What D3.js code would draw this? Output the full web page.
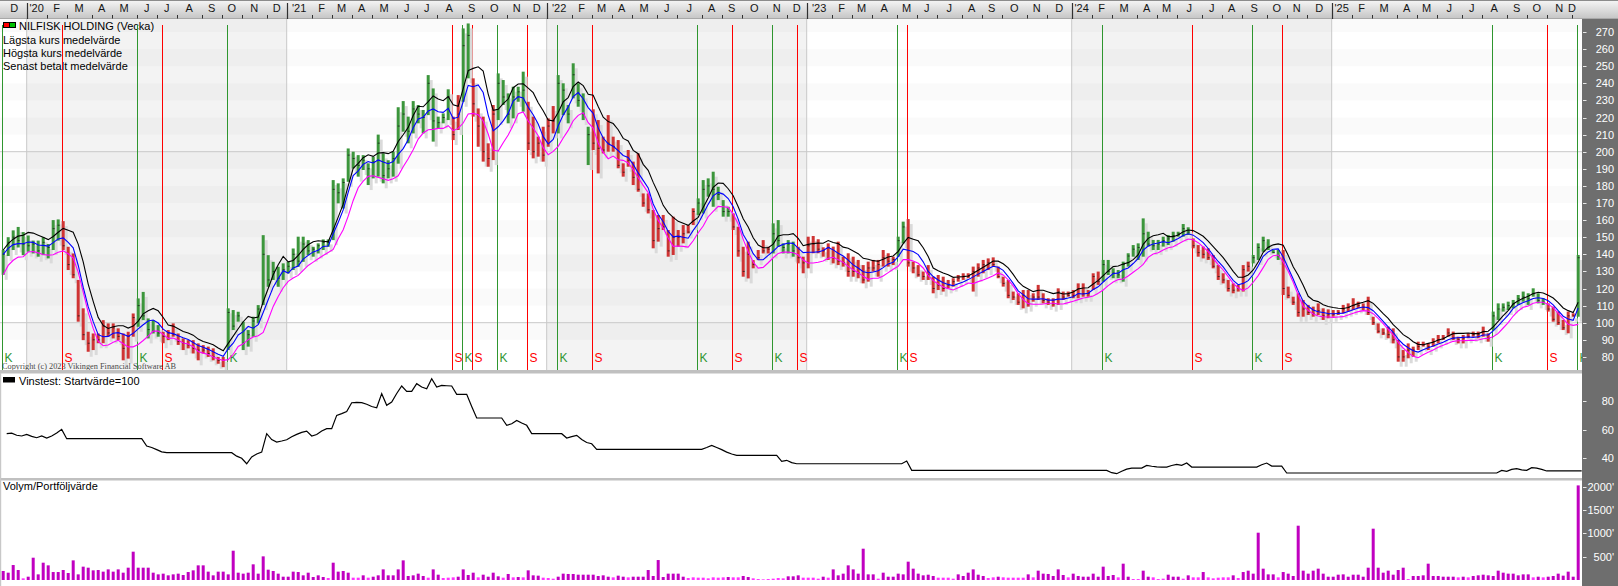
<!DOCTYPE html>
<html><head><meta charset="utf-8">
<script src="https://cdn.jsdelivr.net/npm/d3@7/dist/d3.min.js"></script>
<style>
html,body{margin:0;padding:0;background:#fff;overflow:hidden}
svg{display:block}
text{font-family:"Liberation Sans",Arial,sans-serif;font-size:11px}
</style></head><body>
<svg id="chart" width="1618" height="586"></svg>
<script>
// ---------- DATA (weekly, first week = Sunday 2019-12-01) ----------
const startDate = new Date(2019, 11, 1);
const highs = [
142.5,150,154,156,153,151,148,148,150,146,
160,160.4,159.4,144.4,140.5,125,108.4,94.7,93.7,93.7,
101.5,99.6,99.6,96.7,93.7,94.7,105.4,114.2,118,102.5,
101.5,98.6,94.7,95.7,99.6,93.7,90.8,89.8,89.8,87.9,
86.9,86,85,80,80,108.4,107.4,106.4,100.6,95.7,
103.5,110.3,151.2,139.5,135.6,132.7,134.7,135.6,143.4,150.3,
150.3,148.3,144.4,146.4,148.7,148.7,183.4,181.5,184.4,201.9,
200,198,198,193.2,197.1,210,199,195,200,226,
229.6,220.5,229.6,227.3,224.4,244.8,237,220.5,222.4,236.5,
220.5,233.1,272.1,275,242.9,225.3,220.5,204.9,227.3,245.8,
241.9,234.1,238,238,246.8,229.2,220.5,208.8,214.6,219.5,
226.7,244.8,240,227.3,251.7,240,234.1,214.6,224.8,218.5,
208.8,221.4,208.8,206.8,193.2,201,194.2,199,175.6,175.6,
165.9,163,163,154.2,162,154.2,157.1,157.1,166.9,172.7,
183.4,184.4,188.3,179.5,171.7,167.8,163.9,156.1,144.4,147.4,
136.6,142.5,148.3,144.4,158.1,160,146.4,148.3,147.4,144.4,
138.6,150.3,150.7,148.8,144.1,146.4,144.5,147.4,138.6,140.6,
138.6,136.7,133.7,135.7,136.7,136.7,142.5,140.6,138.6,150.3,
159.1,160.6,135.7,133.7,129.9,133.7,126.9,127.9,126.9,125,
126,127.9,128.9,128.9,132.8,134.7,136.7,137.6,138.2,132.8,
126.9,125,118.2,117.2,119.1,119.1,117.2,122.1,117.2,114.3,
114.3,120.1,118.2,118.2,119.1,123,123,119.1,128.9,129.9,
136.7,136.7,131.8,130.8,135.7,140.6,145.4,146.4,161,153.2,
148.4,148.4,150.3,151.3,153.2,153.2,157.7,155.8,149.3,145.4,
144.5,143.5,139.6,133.7,128.9,125,123,122.1,133.7,135.7,
139.6,146.4,150.3,148.8,142.5,142.5,142.5,121.1,115.2,117.2,
113.3,110.4,109.4,111.3,108.4,107.8,107.4,107.4,110.4,111.3,
114.3,112.3,111.3,115.2,103.5,99.6,96.7,97.7,96.7,89.9,
84,87.9,86,88.9,88.9,87.9,90.9,92.8,92.8,96.7,
94.8,91.8,92.8,93.8,94.8,94.8,97.7,93.8,106.5,111.3,
111.3,112.3,113.3,116.2,118.2,117.2,120.1,117.2,114.3,111.3,
109.4,106.5,101.6,106.5,105.5,139.6];
const lows = [
128,139,142.5,144,139.5,141.5,140.5,138.6,139.5,137.6,
142.5,148,142.5,130.8,126,100.6,89.8,83,84,88,
88,91.8,90.8,89.8,78,79,91.8,97.6,101.5,90.8,
93.7,91.8,88,89.8,91.8,87,84,85,82,78,
82,80,78,76,74,84,95.7,100.6,84,86,
91.8,99.6,110.3,121,125,121,125,128.8,130.8,132.7,
135.6,139.5,138.6,140.5,142.5,144.4,148.3,169.8,166.8,182.4,
190.2,185.4,189.3,180.5,184.4,185.4,181.5,184.4,185.4,193,
211.7,204.9,210.7,216.6,210.7,221.4,205.9,213.6,216.6,218.5,
206.8,212.7,229.2,242.9,220.5,202.9,194.2,191.2,195.1,218.5,
227.3,216.6,219.5,229.2,223.4,201,196.1,197.1,194.2,202.9,
210.7,210.7,221.4,216.6,231.2,226.3,218.5,192.2,201,187.3,
199,200,200,190.3,185.4,191.2,180.5,176.6,167.8,163.9,
143.5,147.4,154.2,138.6,139.6,144.4,146.4,152.2,157.1,163,
163.9,173.7,167.8,171.7,162,162,154.2,138.6,126.9,125.9,
131.8,136.6,140.5,140.5,140.5,144.4,140.5,140.5,138.6,134.7,
128.9,131.8,140.6,140.6,138.6,136.7,134.7,133.7,132.8,126.9,
126.9,126,123,124,129.9,126.9,132.8,132.8,133.7,138.6,
146.4,132.8,128.9,126.9,125,125,117.2,119.1,118.2,120.1,
121.1,124,125,126,118.2,126.9,128.9,130.8,132.8,126,
121.1,114.3,113.3,110.4,108.4,109.4,112.3,113.3,111.3,110.4,
109.4,110.4,113.3,115.2,114.3,114.3,115.2,115.2,119.1,122.1,
124,127.9,126,126,124,132.8,138.6,136.7,138.6,144.5,
142.5,142.5,144.5,145.4,147.4,150.3,150.3,151.3,143.5,138.6,
137.6,136.7,131.8,125,123,118.2,117.2,118.2,118.2,129.9,
134.7,136.7,141.5,142.5,140.6,136.7,116.2,114.3,110.4,103.5,
103.5,104.5,103.5,104.5,101.6,102.6,103.5,104.5,105.5,106.5,
107.4,108.4,107.4,104.5,98.7,93.8,92.8,90.9,87.9,77.2,
77.2,79.2,80.1,84,86,84,86,87.9,89.9,91.8,
89.9,87.9,87.9,90.9,91.8,90.9,91.8,88.9,95.7,101.6,
106.5,107.4,108.4,110.4,112.3,110.4,115.2,111.3,110.4,106.5,
100.6,98.7,95.7,93.8,103.5,103.5];
const closes = [
140,147,150,148,146,145,146,142,147,144,
155,157,145,134,128,104,93,88,90,90,
98,94,97,92,85,92,103,110,104,96,
95,94,92,94,93,89,88,87,85,84,
84,82,80,78,78,106,98,104,88,93,
101,108,140,125,130,126,131,133,140,136,
146,142,143,145,147,147,178,176,182,198,
196,192,195,190,194,205,186,190,196,215,
222,212,225,222,220,240,218,217,220,232,
210,222,262,268,228,215,200,196,222,240,
232,222,232,235,236,205,200,205,198,215,
218,240,236,222,245,230,222,210,205,202,
201,205,203,192,188,195,185,178,170,166,
148,155,156,142,150,150,152,153,165,170,
178,180,178,175,165,165,156,142,130,140,
134,138,142,143,152,148,144,146,142,138,
135,145,146,143,142,144,138,136,135,130,
130,129,125,132,132,134,138,136,137,148,
156,135,132,128,127,128,120,122,120,122,
124,126,127,127,130,132,134,135,134,127,
123,116,115,112,116,111,115,115,113,112,
111,118,115,116,116,120,117,117,127,124,
134,130,129,128,134,139,143,144,152,146,
145,146,148,149,151,152,155,153,145,141,
140,138,133,127,125,120,119,120,131,133,
138,144,148,144,141,139,120,116,112,106,
108,106,105,107,104,105,105,106,108,109,
110,110,109,106,100,95,94,93,90,80,
80,84,84,86,87,86,89,90,91,94,
91,90,91,92,93,93,95,91,104,108,
109,110,111,114,115,114,117,113,112,108,
102,100,97,104,104,138];
const volumes = [
193,157,321,214,36,71,478,121,371,314,
171,171,214,150,421,121,286,264,207,214,
179,228,179,228,157,264,607,264,264,264,
157,121,136,100,121,136,107,171,207,314,
314,179,100,179,179,121,628,157,136,157,
336,136,507,221,193,136,71,71,179,171,
100,157,64,100,64,43,371,179,193,157,
50,50,100,50,71,100,228,100,100,228,
421,86,100,136,86,50,228,114,43,50,
57,71,228,107,157,57,114,71,157,79,
50,129,57,64,57,207,100,93,50,43,
29,71,136,129,129,114,114,114,114,86,
100,71,57,93,71,57,71,71,71,214,
86,428,64,136,136,136,71,43,57,50,
50,36,57,50,57,64,57,57,86,64,
36,21,14,21,29,43,36,79,79,100,
50,50,50,29,71,50,228,100,136,314,
228,136,671,121,121,29,157,71,71,136,
121,393,243,136,100,114,86,50,50,50,
29,121,86,157,228,114,86,43,57,71,
57,50,50,50,50,121,57,200,136,129,
86,228,107,57,136,86,71,71,136,71,
286,86,107,57,350,71,21,21,200,71,
57,21,29,114,71,71,29,100,57,57,
171,57,36,50,57,57,100,43,171,200,
136,1014,243,121,121,57,171,136,86,1164,
200,136,200,243,136,71,71,114,121,71,
114,114,71,264,1100,264,157,200,114,214,
264,21,86,86,100,350,86,86,71,71,
71,57,71,57,86,100,114,100,86,200,
157,136,136,100,121,121,57,71,57,71,
86,136,93,179,71,2028];
const vinstest = [
57.1,57.5,56,55.5,56.6,55.2,54.3,55.5,54.1,55.5,
57.5,60.1,53.6,53.6,53.6,53.6,53.6,53.6,53.6,53.6,
53.6,53.6,53.6,53.6,53.6,53.6,53.6,53.6,48.5,47.5,
46,44.5,43.9,43.9,43.9,43.9,43.9,43.9,43.9,43.9,
43.9,43.9,43.9,43.9,43.9,43.9,41.5,40,36.2,40.9,
43,44.3,57.1,53,51.3,52,52.9,55,56.6,58,
58.9,55.5,56.5,59,60.6,60.6,69.8,71,72.5,78.6,
78.8,78.6,77.5,76,75.1,84.9,76.8,79.1,85,90.2,
86.5,86.5,91.8,89.5,88.3,95.3,89.5,90.6,90.4,90.2,
84.4,84.4,84.4,76,68,68,68,68,68,68,
62.9,64,66.3,64.5,62.9,57.1,57.1,57.1,57.1,57.1,
57.1,57.1,54.1,55,55.9,53,51,50.1,46.2,46.2,
46.2,46.2,46.2,46.2,46.2,46.2,46.2,46.2,46.2,46.2,
46.2,46.2,46.2,46.2,46.2,46.2,46.2,46.2,46.2,46.2,
47.5,49,47.5,46,44.3,43,42,42,42,42,
42,42,42,42,42,37.9,38.6,37,36.2,36.2,
36.2,36.2,36.2,36.2,36.2,36.2,36.2,36.2,36.2,36.2,
36.2,36.2,36.2,36.2,36.2,36.2,36.2,36.2,36.2,36.2,
38.1,31.6,31.6,31.6,31.6,31.6,31.6,31.6,31.6,31.6,
31.6,31.6,31.6,31.6,31.6,31.6,31.6,31.6,31.6,31.6,
31.6,31.6,31.6,31.6,31.6,31.6,31.6,31.6,31.6,31.6,
31.6,31.6,31.6,31.6,31.6,31.6,31.6,31.6,31.6,31.6,
31.6,30,29.3,31,32.5,33.2,33.2,33.2,35.1,34.5,
34,33.9,33.9,35,35.8,35.1,36.7,33.9,33.9,33.9,
33.9,33.9,33.9,33.9,33.9,33.9,33.9,33.9,33.9,33.9,
33.9,35.5,36.7,34.6,34.6,34.6,29.8,29.8,29.8,29.8,
29.8,29.8,29.8,29.8,29.8,29.8,29.8,29.8,29.8,29.8,
29.8,29.8,29.8,29.8,29.8,29.8,29.8,29.8,29.8,29.8,
29.8,29.8,29.8,29.8,29.8,29.8,29.8,29.8,29.8,29.8,
29.8,29.8,29.8,29.8,29.8,29.8,29.8,29.8,29.8,31.6,
31,32.3,32.8,32,31.6,33.5,33.2,32.3,31.2,31.2,
31.2,31.2,31.2,31.2,31.2,31.2];
// signal weeks (index of week)
const buyWeeks = [0,27,45,92,99,111,139,154,179,220,250,298,315];
const sellWeeks = [12,32,90,94,105,118,146,159,181,238,256,309];
// labels / ticks
const monthLetters = ["J","F","M","A","M","J","J","A","S","O","N","D"];
const priceTicks = [80,90,100,110,120,130,140,150,160,170,180,190,200,210,220,230,240,250,260,270];
const vinstTicks = [40,60,80];
const volTicks = [500,1000,1500,2000];
const legendTitle = "NILFISK HOLDING (Vecka)";
const legendLines = ["Lägsta kurs medelvärde","Högsta kurs medelvärde","Senast betalt medelvärde"];
const vinstLabel = "Vinstest: Startvärde=100";
const volLabel = "Volym/Portföljvärde";
const copyright = "Copyright (c) 2023 Vikingen Financial Software AB";

// ---------- DRAW ----------
const svg = d3.select("#chart");
const n = highs.length;
const lens = [lows.length, closes.length, volumes.length, vinstest.length];
if (lens.some(l => l !== n)) {
  svg.append("text").attr("x", 600).attr("y", 300).attr("fill", "red").style("font-size","30px").text("LEN " + n + " " + lens.join(","));
}
const weeks = d3.timeWeek.range(startDate, d3.timeWeek.offset(startDate, n));
const x = d3.scaleBand().domain(weeks).range([1.7, 1.7 + 5 * n - 2]).paddingInner(0.4).paddingOuter(0);
const bw = x.bandwidth(), step = x.step();
const xl = i => i < n ? x(weeks[i]) : x(weeks[n - 1]) + (i - n + 1) * step;

const AX = 1582, MT = 19, MB = 370;
const yP = d3.scaleLinear().domain([100, 200]).range([322.7, 151.7]);
const yW = d3.scaleLinear().domain([40, 80]).range([458.3, 400.7]);
const yVol = d3.scaleLinear().domain([0, 2000]).range([580, 486.7]);

const GREEN = "#3c963c", RED = "#cf3434", SIG_G = "#2f962f", SIG_R = "#ff0000";

const defs = svg.append("defs");
const hg = defs.append("linearGradient").attr("id", "hg").attr("x1", 0).attr("y1", 0).attr("x2", 0).attr("y2", 1);
hg.append("stop").attr("offset", "0%").attr("stop-color", "#f6f6f6");
hg.append("stop").attr("offset", "100%").attr("stop-color", "#c4c4c4");
defs.append("clipPath").attr("id", "cm").append("rect").attr("x", 0).attr("y", MT).attr("width", AX).attr("height", MB - MT);
defs.append("clipPath").attr("id", "cw").append("rect").attr("x", 0).attr("y", 373.5).attr("width", AX).attr("height", 104.5);

svg.append("rect").attr("width", 1618).attr("height", 586).attr("fill", "#fff");

// main panel background
const gMain = svg.append("g").attr("clip-path", "url(#cm)");
const yearStarts = [0];
for (let i = 1; i < n; i++) if (weeks[i].getFullYear() !== weeks[i - 1].getFullYear()) yearStarts.push(i);
yearStarts.forEach((s, j) => {
  const e = j + 1 < yearStarts.length ? yearStarts[j + 1] : n;
  const yr = weeks[s].getFullYear();
  gMain.append("rect").attr("x", xl(s)).attr("y", MT).attr("width", xl(e) - xl(s)).attr("height", MB - MT)
    .attr("fill", yr % 2 === 0 ? "#f3f3f3" : "#ffffff");
});
for (let v = 80; v < 290; v += 10) {
  if ((v / 10) % 2 === 1) gMain.append("rect").attr("x", 0).attr("width", AX)
    .attr("y", yP(v + 10)).attr("height", yP(v) - yP(v + 10)).attr("fill", "#000").attr("opacity", 0.018);
}
[100, 200].forEach(v => gMain.append("line").attr("x1", 0).attr("x2", AX).attr("y1", yP(v)).attr("y2", yP(v))
  .attr("stroke", "#c8c8c8").attr("stroke-width", 1));
yearStarts.slice(1).forEach(s => gMain.append("line").attr("x1", xl(s)).attr("x2", xl(s)).attr("y1", MT).attr("y2", MB)
  .attr("stroke", "#c8c8c8").attr("stroke-width", 1));

// legend
gMain.append("rect").attr("x", 3).attr("y", 22).attr("width", 13).attr("height", 6).attr("fill", "#000");
gMain.append("rect").attr("x", 4).attr("y", 23).attr("width", 5).attr("height", 4).attr("fill", "#ff0000");
gMain.append("rect").attr("x", 10).attr("y", 23).attr("width", 5).attr("height", 4).attr("fill", "#00c000");
gMain.append("text").attr("x", 19).attr("y", 30).attr("fill", "#000").text(legendTitle);
legendLines.forEach((t, i) => gMain.append("text").attr("x", 3).attr("y", 43.5 + i * 13).attr("fill", "#000").text(t));

// signal lines
const sigs = buyWeeks.map(i => ({ i, t: "K", c: SIG_G })).concat(sellWeeks.map(i => ({ i, t: "S", c: SIG_R })));
sigs.forEach(s => {
  const xx = Math.round(xl(s.i)) + 0.5;
  gMain.append("line").attr("x1", xx).attr("x2", xx).attr("y1", 25).attr("y2", MB).attr("stroke", s.c).attr("stroke-width", 1);
  gMain.append("text").attr("x", xx + 2).attr("y", 361.5).attr("fill", s.c).style("font-size", "12px").text(s.t);
});

// bar state
const state = []; let cur = "K";
for (let i = 0; i < n; i++) {
  if (buyWeeks.includes(i)) cur = "K";
  if (sellWeeks.includes(i)) cur = "S";
  state.push(cur);
}
const idx = d3.range(n);
gMain.selectAll("rect.sh").data(idx).join("rect").attr("class", "sh")
  .attr("x", i => xl(i) + 3).attr("width", bw)
  .attr("y", i => yP(highs[i]) + 5).attr("height", i => Math.max(1, yP(lows[i]) - yP(highs[i])))
  .attr("fill", "#dadada");
gMain.selectAll("rect.bar").data(idx).join("rect").attr("class", "bar")
  .attr("x", i => xl(i)).attr("width", bw)
  .attr("y", i => yP(highs[i])).attr("height", i => Math.max(1, yP(lows[i]) - yP(highs[i])))
  .attr("fill", i => state[i] === "K" ? GREEN : RED);
gMain.selectAll("rect.cl").data(idx).join("rect").attr("class", "cl")
  .attr("x", i => xl(i) + 1).attr("width", 2)
  .attr("y", i => yP(closes[i]) - 0.5).attr("height", 1)
  .attr("fill", "#1a1a1a").attr("opacity", 0.75);

// moving averages
const sma = (arr, p) => arr.map((_, i) => d3.mean(arr.slice(Math.max(0, i - p + 1), i + 1)));
const maLine = d3.line().x((d, i) => xl(i) + 1.5).y(d => yP(d));
[[sma(lows, 5), "#ff00ff"], [sma(closes, 5), "#0000ff"], [sma(highs, 5), "#000000"]].forEach(([arr, c]) => {
  gMain.append("path").attr("d", maLine(arr)).attr("fill", "none").attr("stroke", c).attr("stroke-width", 1.1);
});

svg.append("text").attr("x", 2).attr("y", 369.3).attr("fill", "#4a4a4a")
  .style("font-family", "'Liberation Serif','Times New Roman',serif").style("font-size", "8.3px").text(copyright);

// separators
svg.append("rect").attr("x", 0).attr("y", 370).attr("width", AX).attr("height", 3.5).attr("fill", "#c0c0c0");
svg.append("rect").attr("x", 0).attr("y", 478).attr("width", AX).attr("height", 2.5).attr("fill", "#c0c0c0");
svg.append("rect").attr("x", 0).attr("y", 373).attr("width", 1.2).attr("height", 213).attr("fill", "#c8c8c8");

// vinstest panel
svg.append("rect").attr("x", 3).attr("y", 377).attr("width", 12).attr("height", 5.5).attr("fill", "#000");
svg.append("text").attr("x", 19).attr("y", 384.5).attr("fill", "#000").text(vinstLabel);
svg.append("g").attr("clip-path", "url(#cw)").append("path")
  .attr("d", d3.line().x((d, i) => xl(i) + 5).y(d => yW(d))(vinstest))
  .attr("fill", "none").attr("stroke", "#000").attr("stroke-width", 1.2);

// volume panel
svg.append("text").attr("x", 3).attr("y", 489.5).attr("fill", "#000").text(volLabel);
svg.selectAll("rect.vol").data(idx).join("rect").attr("class", "vol")
  .attr("x", i => xl(i)).attr("width", bw)
  .attr("y", i => yVol(volumes[i])).attr("height", i => yVol(0) - yVol(volumes[i]))
  .attr("fill", i => volumes[i] < 60 ? "#ff33ff" : "#c000c0");

// header
svg.append("rect").attr("x", 0).attr("y", 0).attr("width", 1618).attr("height", 19).attr("fill", "url(#hg)");
svg.append("line").attr("x1", 0).attr("x2", 1618).attr("y1", 0.5).attr("y2", 0.5).attr("stroke", "#8c8c8c");
svg.append("line").attr("x1", 0).attr("x2", 1618).attr("y1", 18.5).attr("y2", 18.5).attr("stroke", "#a8a8a8");
const monthStarts = [0];
for (let i = 1; i < n; i++) if (weeks[i].getMonth() !== weeks[i - 1].getMonth()) monthStarts.push(i);
monthStarts.forEach((s, j) => {
  const e = j + 1 < monthStarts.length ? monthStarts[j + 1] : n;
  const m = weeks[s].getMonth();
  const cx = Math.min((xl(s) + xl(e)) / 2, 1572);
  const label = m === 0 ? "'" + String(weeks[s].getFullYear()).slice(2) : monthLetters[m];
  svg.append("text").attr("x", cx).attr("y", 11.5).attr("text-anchor", "middle").attr("fill", "#141414").text(label);
  if (j > 0) {
    const xx = Math.round(xl(s)) + 0.5;
    if (m === 0) svg.append("line").attr("x1", xx).attr("x2", xx).attr("y1", 3).attr("y2", 19).attr("stroke", "#303030").attr("stroke-width", 1.2);
    else svg.append("line").attr("x1", xx).attr("x2", xx).attr("y1", 15).attr("y2", 18.5).attr("stroke", "#303030");
  }
});

// right axis column
svg.append("rect").attr("x", AX).attr("y", 19).attr("width", 1618 - AX).attr("height", 567).attr("fill", "#6e6e6e");
const axisTick = (y, label) => {
  svg.append("line").attr("x1", AX + 1).attr("x2", AX + 4.5).attr("y1", Math.round(y) + 0.5).attr("y2", Math.round(y) + 0.5).attr("stroke", "#e6e6e6");
  svg.append("text").attr("x", 1614).attr("y", y + 4).attr("text-anchor", "end").attr("fill", "#ffffff").text(label);
};
priceTicks.forEach(v => axisTick(yP(v), String(v)));
vinstTicks.forEach(v => axisTick(yW(v), String(v)));
volTicks.forEach(v => axisTick(yVol(v), v + "'"));
</script>
</body></html>
